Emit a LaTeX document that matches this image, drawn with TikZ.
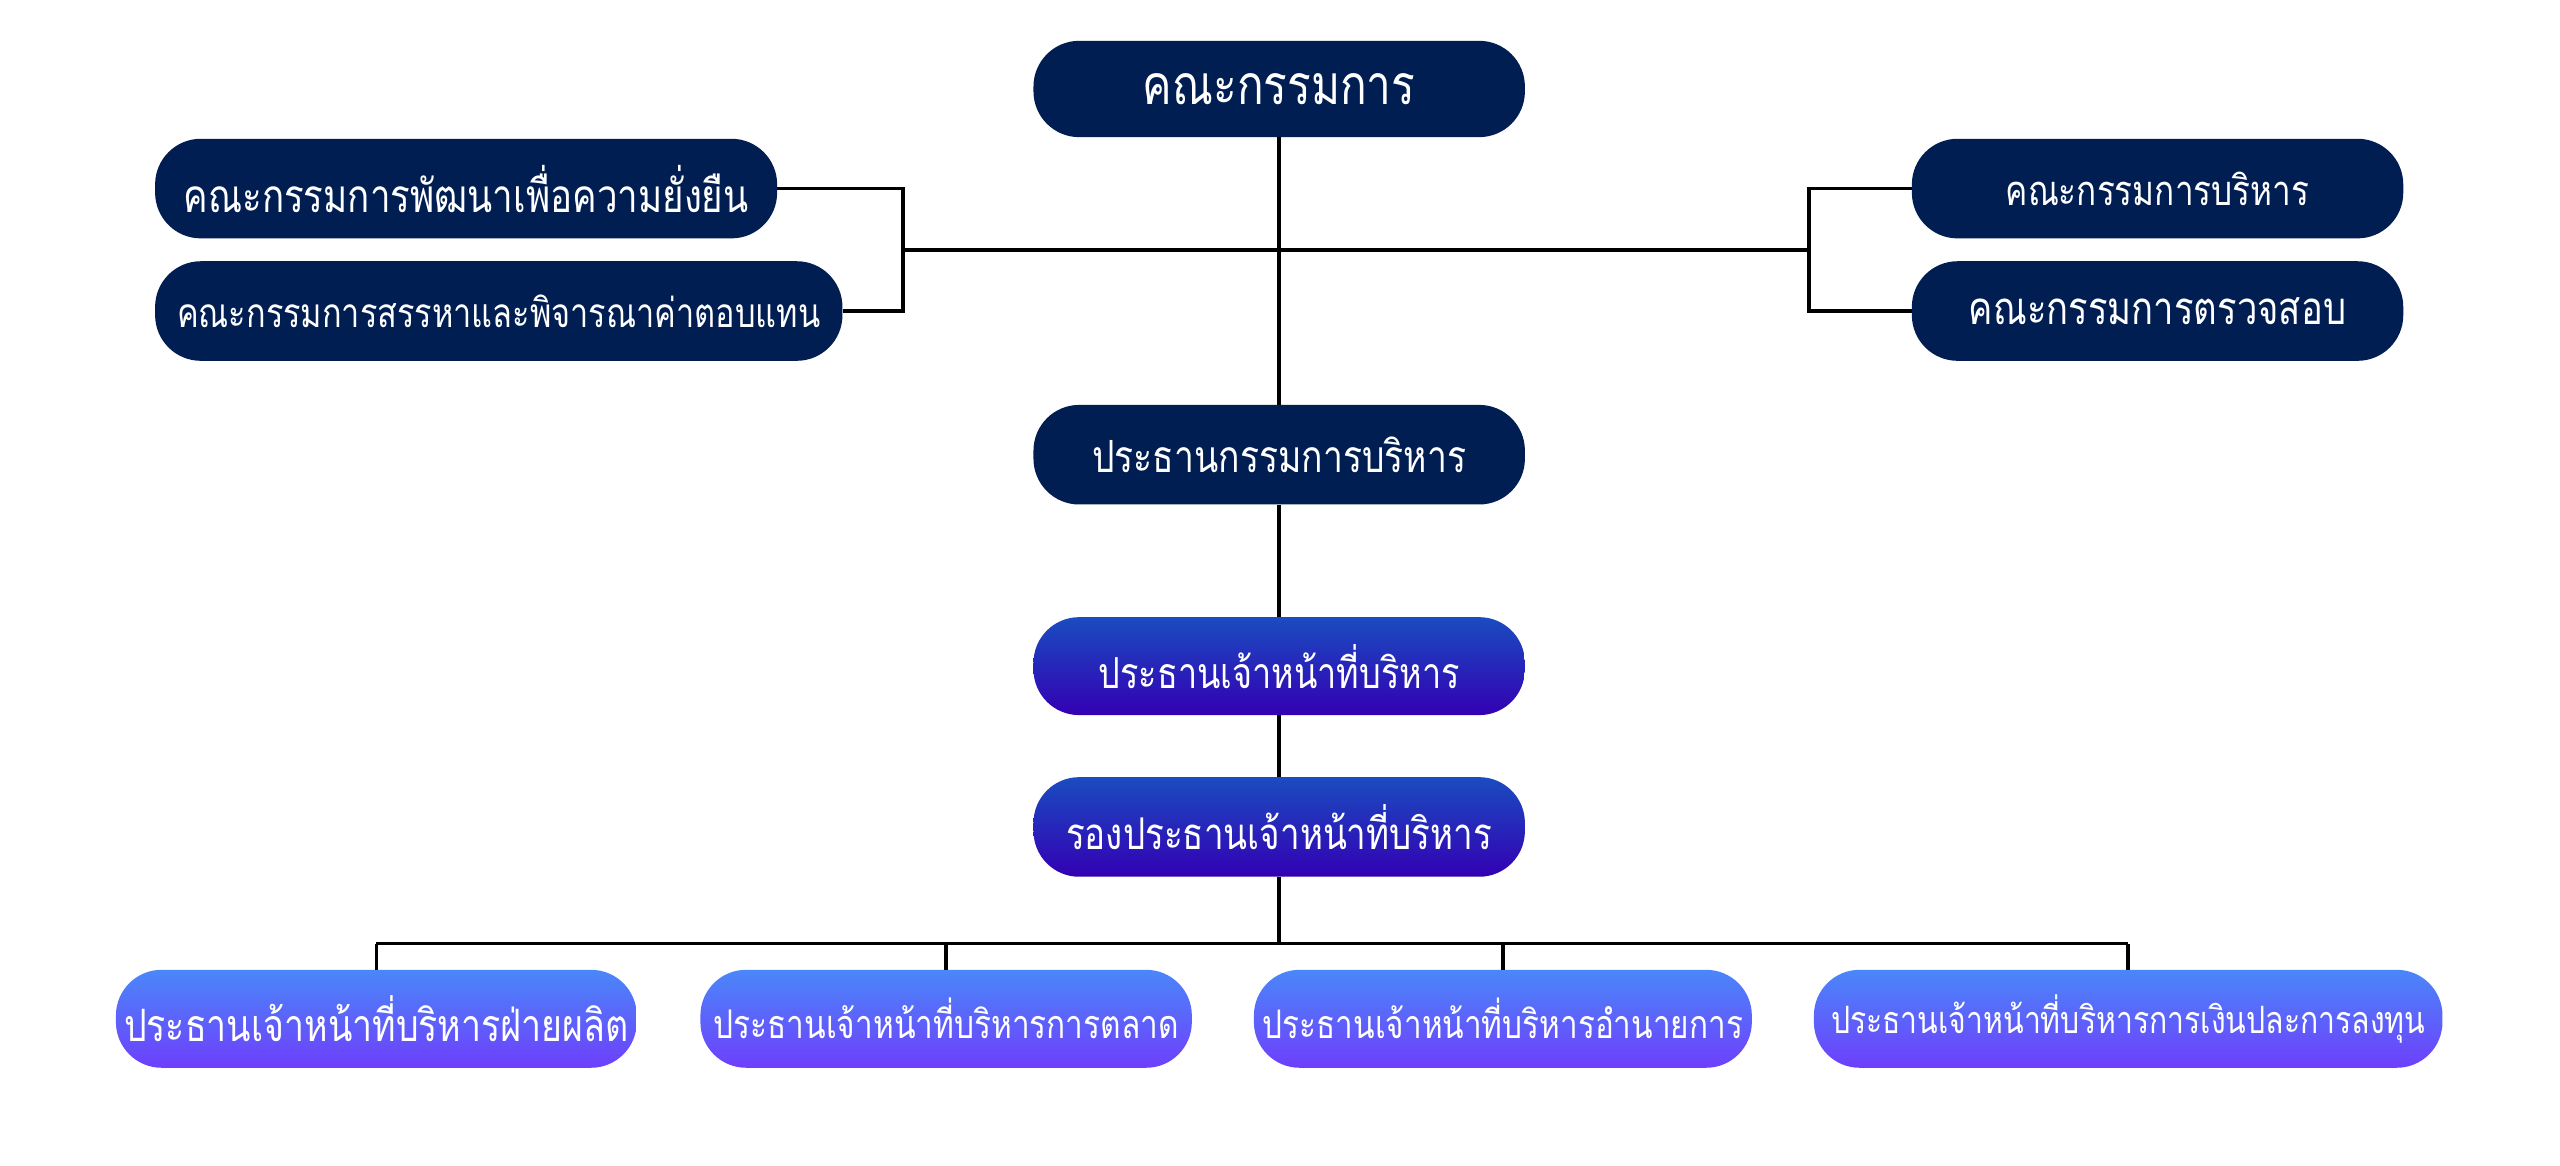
\documentclass[tikz,border=0pt]{standalone}
\usepackage{graphicx}
\usepackage{fontspec}
\newfontfamily\thaifont[Script=Thai]{Loma}
\usetikzlibrary{calc}
\definecolor{navy}{HTML}{011E52}
\definecolor{midtop}{HTML}{1A4CC0}
\definecolor{midbot}{HTML}{3300B3}
\definecolor{lowtop}{HTML}{4A87F9}
\definecolor{lowbot}{HTML}{6E3FFC}
\newcommand{\fitw}[2]{\scalebox{1}[1.25]{\resizebox{#1}{!}{#2}}}
\tikzset{
  pill/.style={rectangle, rounded corners=14mm, inner sep=0pt, text=white, minimum width=#1, font=\thaifont\fontsize{30}{36}\selectfont},
  darkpill/.style={pill=#1, fill=navy, minimum height=30.5mm},
  midpill/.style={pill=#1, top color=midtop, bottom color=midbot, minimum height=30.5mm},
  lowpill/.style={pill=#1, top color=lowtop, bottom color=lowbot, minimum height=30mm},
  conn/.style={draw=black, line width=1.1mm}
}
\begin{document}
\begin{tikzpicture}[x=0.5mm,y=-0.5mm]
\useasboundingbox[fill=white] (0,0) rectangle (1568,714);
% nodes
\node[darkpill=150.5mm, minimum height=29.5mm] (board) at (783.5,54.5) {\fitw{83.5mm}{คณะกรรมการ}};
\node[darkpill=190.5mm] (sus) at (285.5,115.5) {\fitw{173mm}{คณะกรรมการพัฒนาเพื่อความยั่งยืน}};
\node[darkpill=210.5mm] (nom) at (305.5,190.5) {\fitw{197mm}{คณะกรรมการสรรหาและพิจารณาค่าตอบแทน}};
\node[darkpill=150.5mm] (exe) at (1321.5,115.5) {\fitw{93mm}{คณะกรรมการบริหาร}};
\node[darkpill=150.5mm] (aud) at (1321.5,190.5) {\fitw{115.5mm}{คณะกรรมการตรวจสอบ}};
\node[darkpill=150.5mm] (chair) at (783.5,278.5) {\fitw{114.5mm}{ประธานกรรมการบริหาร}};
\node[midpill=150.5mm, minimum height=30mm] (ceo) at (783.5,408) {\fitw{110.5mm}{ประธานเจ้าหน้าที่บริหาร}};
\node[midpill=150.5mm] (vp) at (783.5,506.5) {\fitw{130.5mm}{รองประธานเจ้าหน้าที่บริหาร}};
\node[lowpill=159.5mm] (b1) at (230.5,624) {\fitw{154.5mm}{ประธานเจ้าหน้าที่บริหารฝ่ายผลิต}};
\node[lowpill=150.5mm] (b2) at (579.5,624) {\fitw{142.5mm}{ประธานเจ้าหน้าที่บริหารการตลาด}};
\node[lowpill=152.5mm] (b3) at (920.5,624) {\fitw{147mm}{ประธานเจ้าหน้าที่บริหารอำนายการ}};
\node[lowpill=192.5mm] (b4) at (1303.5,624) {\fitw{182mm}{ประธานเจ้าหน้าที่บริหารการเงินปละการลงทุน}};
% junction coordinates
\coordinate (L) at (553,153);
\coordinate (R) at (1108,153);
\coordinate (hub) at (783.5,578);
% connectors
\draw[conn] (board.south) -- (chair.north);
\draw[conn] (L) -- (R);
\draw[conn] (sus.east) -- (sus.east -| L) -- (nom.east -| L) -- (nom.east);
\draw[conn] (exe.west) -- (exe.west -| R) -- (aud.west -| R) -- (aud.west);
\draw[conn] (chair.south) -- (ceo.north);
\draw[conn] (ceo.south) -- (vp.north);
\draw[conn] (vp.south) -- (hub);
\draw[conn] (b1.north |- hub) -- (b4.north |- hub);
\foreach \b in {b1,b2,b3,b4}{
  \draw[conn] (\b.north |- hub) -- (\b.north);
}
\end{tikzpicture}
\end{document}
